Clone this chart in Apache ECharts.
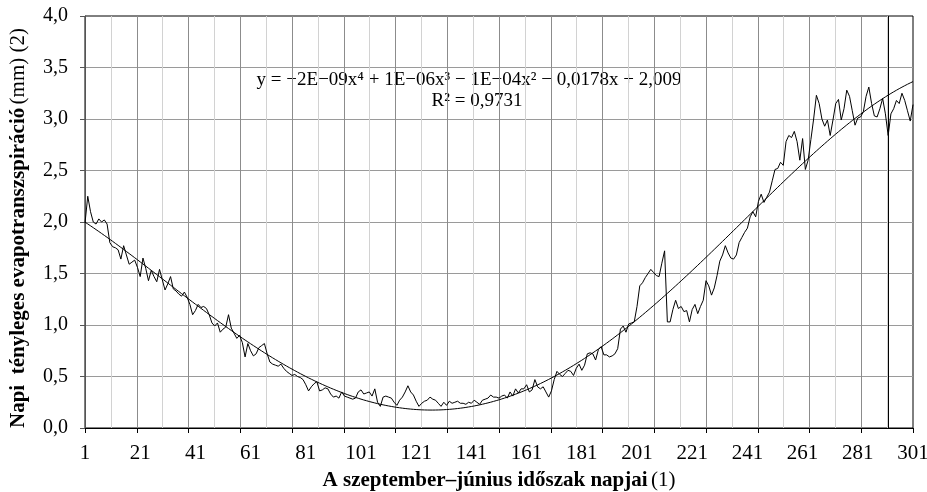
<!DOCTYPE html>
<html><head><meta charset="utf-8">
<script src="https://cdn.jsdelivr.net/npm/echarts@6/dist/echarts.min.js"></script>
<style>html,body{margin:0;padding:0;background:#fff}#c{width:927px;height:492px}</style>
</head><body><div id="c"></div>
<script>
// ---- data ----
const dayLabels = [1, 21, 41, 61, 81, 101, 121, 141, 161, 181, 201, 221, 241, 261, 281, 301];
const yTickValues = [0, 0.5, 1, 1.5, 2, 2.5, 3, 3.5, 4];
const etValues = [
  1.99, 2.25, 2.10, 2.00, 1.98, 2.03, 2.00, 2.02, 1.98, 1.80,
  1.76, 1.75, 1.73, 1.64, 1.77, 1.68, 1.59, 1.61, 1.63, 1.56,
  1.47, 1.65, 1.55, 1.43, 1.53, 1.47, 1.42, 1.54, 1.44, 1.34,
  1.40, 1.47, 1.35, 1.33, 1.30, 1.28, 1.32, 1.27, 1.20, 1.10,
  1.14, 1.20, 1.17, 1.18, 1.16, 1.10, 1.02, 0.99, 1.02, 0.93,
  0.96, 0.98, 1.10, 0.97, 0.92, 0.87, 0.90, 0.83, 0.69, 0.82,
  0.75, 0.70, 0.72, 0.78, 0.80, 0.82, 0.72, 0.64, 0.62, 0.61,
  0.60, 0.62, 0.58, 0.55, 0.53, 0.51, 0.52, 0.50, 0.49, 0.47,
  0.42, 0.36, 0.40, 0.43, 0.45, 0.36, 0.37, 0.39, 0.38, 0.33,
  0.30, 0.31, 0.29, 0.35, 0.31, 0.30, 0.29, 0.28, 0.29, 0.35,
  0.37, 0.33, 0.34, 0.35, 0.31, 0.38, 0.25, 0.21, 0.30, 0.31,
  0.30, 0.29, 0.25, 0.22, 0.27, 0.30, 0.35, 0.41, 0.35, 0.32,
  0.26, 0.21, 0.24, 0.26, 0.27, 0.30, 0.28, 0.27, 0.24, 0.21,
  0.25, 0.22, 0.26, 0.24, 0.25, 0.26, 0.24, 0.24, 0.23, 0.25,
  0.24, 0.27, 0.25, 0.23, 0.27, 0.28, 0.29, 0.32, 0.30, 0.30,
  0.29, 0.31, 0.32, 0.29, 0.35, 0.31, 0.38, 0.34, 0.38, 0.38,
  0.42, 0.35, 0.37, 0.47, 0.40, 0.38, 0.40, 0.35, 0.30, 0.36,
  0.47, 0.55, 0.52, 0.50, 0.53, 0.56, 0.55, 0.51, 0.58, 0.62,
  0.56, 0.61, 0.72, 0.73, 0.72, 0.66, 0.76, 0.79, 0.71, 0.71,
  0.69, 0.70, 0.72, 0.77, 0.96, 0.99, 0.93, 1.01, 1.02, 1.03,
  1.18, 1.38, 1.41, 1.46, 1.50, 1.54, 1.51, 1.48, 1.47, 1.60,
  1.72, 1.03, 1.03, 1.15, 1.24, 1.16, 1.18, 1.13, 1.14, 1.03,
  1.15, 1.20, 1.11, 1.18, 1.24, 1.43, 1.38, 1.29, 1.36, 1.48,
  1.62, 1.68, 1.77, 1.70, 1.65, 1.64, 1.68, 1.80, 1.85, 1.90,
  1.94, 2.05, 2.10, 2.05, 2.20, 2.27, 2.19, 2.24, 2.29, 2.40,
  2.51, 2.52, 2.58, 2.55, 2.78, 2.84, 2.82, 2.88, 2.78, 2.60,
  2.81, 2.51, 2.60, 2.80, 3.00, 3.23, 3.15, 3.00, 2.93, 2.99,
  2.84, 2.99, 3.15, 3.19, 2.99, 3.10, 3.28, 3.22, 3.08, 2.94,
  3.01, 3.02, 3.07, 3.22, 3.31, 3.15, 3.03, 3.02, 3.10, 3.20,
  3.05, 2.84, 3.05, 3.10, 3.18, 3.15, 3.25, 3.18, 3.08, 2.98, 3.14
];
const days = etValues.map((_, i) => i + 1);
const markerDay = 292;
const equationText = 'y = −2E−09x⁴ + 1E−06x³ − 1E−04x² − 0,0178x + 2,009';
const r2Text = 'R² = 0,9731';
const xTitleBold = 'A szeptember–június időszak napjai';
const xTitleRest = '(1)';
const yTitleBold = 'Napi  tényleges evapotranszspiráció';
const yTitleRest = '(mm) (2)';

// ---- 4th-degree least-squares trend (as the spreadsheet trendline) ----
function polyFit(xs, ys, deg) {
  const c = (xs[0] + xs[xs.length - 1]) / 2, h = (xs[xs.length - 1] - xs[0]) / 2;
  const n = deg + 1;
  const M = Array.from({length: n}, () => new Array(n + 1).fill(0));
  xs.forEach((x, k) => {
    const t = (x - c) / h;
    const p = [];
    for (let i = 0; i < n; i++) p.push(Math.pow(t, i));
    for (let i = 0; i < n; i++) {
      for (let j = 0; j < n; j++) M[i][j] += p[i] * p[j];
      M[i][n] += p[i] * ys[k];
    }
  });
  for (let i = 0; i < n; i++) {
    let piv = i;
    for (let r = i + 1; r < n; r++) if (Math.abs(M[r][i]) > Math.abs(M[piv][i])) piv = r;
    [M[i], M[piv]] = [M[piv], M[i]];
    for (let r = 0; r < n; r++) {
      if (r === i) continue;
      const f = M[r][i] / M[i][i];
      for (let j = i; j <= n; j++) M[r][j] -= f * M[i][j];
    }
  }
  const coef = M.map((row, i) => row[n] / row[i]);
  return x => { const t = (x - c) / h; let s = 0; for (let i = n - 1; i >= 0; i--) s = s * t + coef[i]; return s; };
}
const trendFn = polyFit(days, etValues, 4);
const trendData = days.map(d => [d, trendFn(d)]);

const FONT = 'Liberation Serif';
const chart = echarts.init(document.getElementById('c'), null, {renderer: 'canvas'});
chart.setOption({
  animation: false,
  backgroundColor: '#fff',
  grid: {left: 85, right: 14, top: 16, bottom: 64, show: true, borderColor: '#000', borderWidth: 1, backgroundColor: 'transparent', containLabel: false, outerBoundsMode: 'none'},
  xAxis: [
    {
      type: 'value', min: 1, max: 301, position: 'bottom',
      axisLine: {show: true, onZero: false, lineStyle: {color: '#000', width: 1}},
      axisTick: {show: false},
      splitLine: {show: false},
      axisLabel: {customValues: dayLabels, fontFamily: FONT, fontSize: 21, color: '#000', margin: 15},
      name: '{b|' + xTitleBold + '} {r|' + xTitleRest + '}',
      nameLocation: 'middle', nameGap: 42,
      nameTextStyle: {rich: {
        b: {fontFamily: FONT, fontSize: 21, fontWeight: 'bold', color: '#000'},
        r: {fontFamily: FONT, fontSize: 21, color: '#000'}
      }}
    },
    {
      type: 'value', min: 0, max: 16, interval: 1, position: 'bottom',
      axisLine: {show: false, onZero: false},
      axisTick: {show: true, length: 5, lineStyle: {color: '#000'}},
      axisLabel: {show: false},
      splitLine: {show: true, showMinLine: false, showMaxLine: false, lineStyle: {color: '#8c8c8c', width: 1}},
      minorTick: {show: false, splitNumber: 2},
      minorSplitLine: {show: true, lineStyle: {color: '#d2d2d2', width: 1}}
    }
  ],
  yAxis: {
    type: 'value', min: 0, max: 4, interval: 0.5,
    axisLine: {show: true, onZero: false, lineStyle: {color: '#555'}},
    axisTick: {show: true, length: 5, lineStyle: {color: '#555'}},
    splitLine: {show: true, showMaxLine: false, showMinLine: false, lineStyle: {color: '#9a9a9a'}},
    axisLabel: {customValues: yTickValues, formatter: v => v.toFixed(1).replace('.', ','), fontFamily: FONT, fontSize: 20, color: '#000', margin: 17},
    name: '{b|' + yTitleBold + '} {r|' + yTitleRest + '}',
    nameLocation: 'middle', nameGap: 56, nameRotate: 90,
    nameTextStyle: {padding: [0, 12, 0, 0], rich: {
      b: {fontFamily: FONT, fontSize: 21, fontWeight: 'bold', color: '#000'},
      r: {fontFamily: FONT, fontSize: 21, color: '#000'}
    }}
  },
  series: [
    {
      type: 'line', xAxisIndex: 0, yAxisIndex: 0,
      data: days.map((d, i) => [d, etValues[i]]),
      symbol: 'none', showSymbol: false,
      lineStyle: {color: '#000', width: 1},
      z: 3,
      markLine: {
        symbol: 'none', silent: true, animation: false,
        label: {show: false},
        lineStyle: {color: '#000', width: 1, type: 'solid'},
        data: [{xAxis: markerDay}]
      }
    },
    {
      type: 'line', xAxisIndex: 0, yAxisIndex: 0,
      data: trendData,
      symbol: 'none', showSymbol: false,
      lineStyle: {color: '#000', width: 1},
      z: 4
    }
  ],
  graphic: [{
    type: 'group', left: 251, top: 62, z: 100,
    children: [
      {type: 'rect', shape: {x: 0, y: 0, width: 444, height: 50}, style: {fill: '#fff'}},
      {type: 'text', x: 218, y: 18, style: {text: equationText, font: '19px "Liberation Serif"', fill: '#000', align: 'center', verticalAlign: 'middle'}},
      {type: 'text', x: 226, y: 39, style: {text: r2Text, font: '19px "Liberation Serif"', fill: '#000', align: 'center', verticalAlign: 'middle'}}
    ]
  }]
});
</script>
</body></html>
